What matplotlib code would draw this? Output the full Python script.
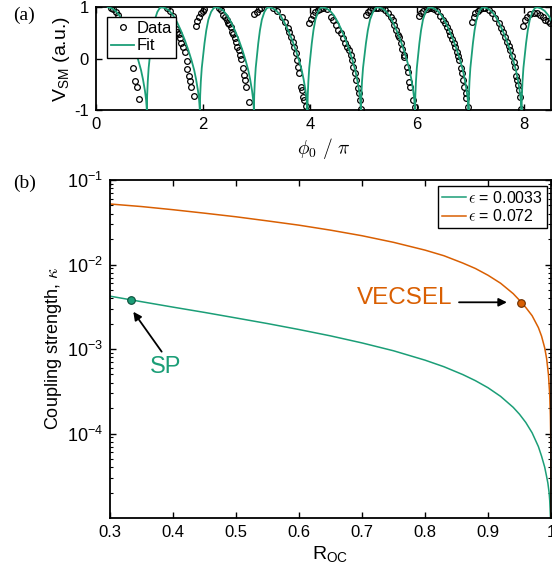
import matplotlib
matplotlib.use('Agg')
import matplotlib.pyplot as plt
from matplotlib.ticker import LogLocator, NullFormatter, FixedLocator, FixedFormatter

plt.rcParams['font.family'] = ['Liberation Sans', 'DejaVu Sans']
plt.rcParams['mathtext.fontset'] = 'custom'
plt.rcParams['mathtext.rm'] = 'Liberation Sans'
plt.rcParams['mathtext.it'] = 'Liberation Sans:italic'
plt.rcParams['mathtext.bf'] = 'Liberation Sans:bold'
plt.rcParams['axes.unicode_minus'] = False

GREEN = '#1b9e77'
ORANGE = '#d95f02'

# ---------------- panel (a): self-mixing signal ----------------
data_phi = [
    0.28, 0.324, 0.368, 0.411, 0.50, 0.58, 0.64, 0.685, 0.729, 0.766, 0.810,
    1.333, 1.383, 1.43, 1.495, 1.520, 1.545, 1.570, 1.583, 1.632, 1.664, 1.695, 1.707, 1.738, 1.757, 1.776, 1.826,
    1.869, 1.894, 1.931, 1.963, 1.994, 2.025,
    2.29, 2.33, 2.380, 2.411, 2.442, 2.474, 2.492, 2.517, 2.542, 2.567, 2.592, 2.617, 2.642, 2.667, 2.692, 2.710,
    2.741, 2.766, 2.785, 2.804, 2.855,
    2.960, 3.003, 3.047, 3.084,
    3.315, 3.377, 3.470, 3.533, 3.583, 3.614, 3.639, 3.676, 3.707, 3.738, 3.763, 3.782, 3.794, 3.826, 3.844,
    3.875, 3.894, 3.925,
    3.981, 4.019, 4.050, 4.093, 4.143, 4.187, 4.249, 4.312,
    4.386, 4.436, 4.480, 4.530, 4.579, 4.611, 4.654, 4.685, 4.729, 4.766, 4.791, 4.810, 4.841, 4.860, 4.891,
    4.916, 4.935, 4.947,
    5.040, 5.078, 5.121, 5.184, 5.227, 5.277, 5.340,
    5.402, 5.464, 5.508, 5.545, 5.570, 5.601, 5.639, 5.664, 5.701, 5.722, 5.745, 5.763, 5.807, 5.826, 5.850,
    5.869, 5.913, 5.950,
    6.037, 6.075, 6.118, 6.181, 6.212, 6.262, 6.305,
    6.368, 6.430, 6.474, 6.524, 6.555, 6.586, 6.617, 6.648, 6.679, 6.710, 6.735, 6.760, 6.785, 6.810, 6.835,
    6.854, 6.879, 6.910, 6.916, 6.947,
    7.022, 7.053, 7.084, 7.134, 7.178, 7.221, 7.271, 7.333,
    7.396, 7.458, 7.520, 7.570, 7.601, 7.645, 7.676, 7.707, 7.738, 7.769, 7.801, 7.819, 7.844, 7.863, 7.875,
    7.907, 7.925, 7.944,
    7.975, 8.006, 8.050, 8.112, 8.174, 8.237, 8.299, 8.349, 8.393, 8.442, 8.486,
]
data_v = [
    0.99, 0.967, 0.902, 0.844, 0.62, 0.35, 0.08, -0.188, -0.435, -0.558, -0.792,
    0.99, 0.934, 0.84, 0.571, 0.519, 0.48, 0.396, 0.298, 0.220, 0.136, -0.046, -0.208, -0.338, -0.429, -0.545, -0.727,
    0.636, 0.740, 0.818, 0.883, 0.934, 0.96,
    0.98, 0.947, 0.850, 0.805, 0.753, 0.688, 0.675, 0.623, 0.526, 0.474, 0.396, 0.318, 0.233, 0.168, 0.071, -0.013,
    -0.188, -0.318, -0.416, -0.545, -0.838,
    0.863, 0.915, 0.96, 0.98,
    0.99, 0.934, 0.818, 0.720, 0.590, 0.526, 0.428, 0.331, 0.233, 0.104, -0.026, -0.156, -0.286, -0.558, -0.610,
    -0.752, -0.805, -0.92,
    0.70, 0.766, 0.850, 0.915, 0.947, 0.96, 0.98, 0.97,
    0.818, 0.753, 0.655, 0.558, 0.493, 0.396, 0.298, 0.233, 0.168, 0.071, -0.026, -0.156, -0.286, -0.416, -0.578,
    -0.675, -0.805, -0.987,
    0.85, 0.915, 0.947, 0.98, 0.99, 0.99, 0.98,
    0.947, 0.883, 0.818, 0.753, 0.655, 0.558, 0.461, 0.415, 0.298, 0.19, 0.071, 0.026, -0.156, -0.253, -0.448,
    -0.558, -0.805, -0.935,
    0.831, 0.895, 0.934, 0.96, 0.98, 0.98, 0.96,
    0.934, 0.831, 0.753, 0.688, 0.623, 0.545, 0.461, 0.376, 0.298, 0.220, 0.136, 0.052, -0.026, -0.188, -0.286,
    -0.416, -0.558, -0.675, -0.773, -0.935,
    0.720, 0.818, 0.883, 0.934, 0.96, 0.98, 0.98, 0.95,
    0.883, 0.785, 0.688, 0.590, 0.526, 0.415, 0.331, 0.246, 0.168, 0.052, -0.059, -0.156, -0.338, -0.416, -0.519,
    -0.610, -0.740, -0.987,
    0.636, 0.753, 0.805, 0.870, 0.895, 0.883, 0.850, 0.805, 0.753, 0.740, 0.701,
]

# fit: fringe positions (peaks and bottoms, in phi0/pi)
fit_peaks = [0.22, 1.23, 2.24, 3.23, 4.23, 5.27, 6.24, 7.24, 8.24]
fit_bottoms = [0.95, 1.94, 2.95, 3.95, 4.95, 5.96, 6.96, 7.95, 8.95]
# shape of one fringe (fraction of branch length, value)
fit_rise_frac = [0.0, 0.02, 0.06, 0.12, 0.20, 0.29, 0.40, 0.53, 0.70, 0.86, 1.0]
fit_rise_v = [-1.0, -0.72, -0.45, -0.18, 0.05, 0.30, 0.55, 0.76, 0.91, 0.985, 1.0]
fit_fall_frac = [0.0, 0.1, 0.2, 0.3, 0.4, 0.5, 0.6, 0.7, 0.78, 0.85, 0.9, 0.95, 0.98, 1.0]
fit_fall_v = [1.0, 0.98, 0.93, 0.84, 0.71, 0.55, 0.37, 0.16, -0.03, -0.22, -0.40, -0.62, -0.80, -1.0]

fit_x, fit_y = [], []
for i, p in enumerate(fit_peaks):
    if i > 0:
        b0 = fit_bottoms[i - 1]
        for f, v in zip(fit_rise_frac, fit_rise_v):
            fit_x.append(b0 + f * (p - b0)); fit_y.append(v)
    b1 = fit_bottoms[i]
    for f, v in zip(fit_fall_frac, fit_fall_v):
        fit_x.append(p + f * (b1 - p)); fit_y.append(v)

# ---------------- panel (b): coupling strength ----------------
R_sp = [0.30, 0.35, 0.40, 0.45, 0.50, 0.55, 0.60, 0.65, 0.70, 0.75, 0.80, 0.83, 0.86, 0.88, 0.90,
        0.92, 0.94, 0.95, 0.96, 0.97, 0.98, 0.985, 0.99, 0.993, 0.995, 0.997, 0.998, 0.9992, 0.9997]
kappa_sp = [0.00422, 0.00363, 0.00313, 0.00271, 0.00233, 0.00200, 0.00170, 0.00143, 0.00118, 0.000953,
            0.000738, 0.000617, 0.000498, 0.000422, 0.000348, 0.000275, 0.000204, 0.000169, 0.000135,
            0.000102, 0.0000700, 0.0000540, 0.0000400, 0.0000310, 0.0000260, 0.0000200, 0.0000160,
            0.0000100, 0.0000040]
R_vec = [0.30, 0.35, 0.40, 0.45, 0.50, 0.55, 0.60, 0.65, 0.70, 0.75, 0.80, 0.83, 0.86, 0.88, 0.90,
         0.92, 0.94, 0.95, 0.96, 0.97, 0.98, 0.985, 0.99, 0.993, 0.996, 0.998, 0.999, 0.9995, 0.9998,
         0.9999, 0.99995, 0.99998]
kappa_vec = [0.0520, 0.0485, 0.0445, 0.0405, 0.0367, 0.0328, 0.0292, 0.0255, 0.0219, 0.0183, 0.0148,
             0.0127, 0.0104, 0.00897, 0.00746, 0.00600, 0.00452, 0.00377, 0.00310, 0.00248, 0.00179,
             0.00142, 0.00103, 0.000775, 0.000494, 0.000285, 0.000163, 0.000094, 0.000045, 0.000026,
             0.000015, 0.000007]
labels_b = [r'$\epsilon$ = 0.0033', r'$\epsilon$ = 0.072']
sp_point = (0.333, 0.00385)
vecsel_point = (0.953, 0.00355)

x_ticks_b = [0.3, 0.4, 0.5, 0.6, 0.7, 0.8, 0.9, 1.0]
x_ticklabels_b = ['0.3', '0.4', '0.5', '0.6', '0.7', '0.8', '0.9', '1']
y_ticks_b = [1e-4, 1e-3, 1e-2, 1e-1]
y_ticklabels_b = [r'$10^{-4}$', r'$10^{-3}$', r'$10^{-2}$', r'$10^{-1}$']

# ---------------- figure ----------------
W, H = 552, 580
fig = plt.figure(figsize=(W / 100, H / 100), dpi=100)
axa = fig.add_axes([96 / W, 1 - 110 / H, (551 - 96) / W, (110 - 7.3) / H])
axb = fig.add_axes([110 / W, 1 - 518 / H, (551 - 110) / W, (518 - 180) / H])

for ax in (axa, axb):
    for s in ax.spines.values():
        s.set_linewidth(1.3)
        s.set_color('k')
    ax.tick_params(which='both', direction='in', top=True, right=True, colors='k')
    ax.tick_params(which='major', length=4, width=1.0, labelsize=12, pad=5)

# panel (a)
axa.plot(data_phi, data_v, 'o', mfc='none', mec='k', ms=4.1, mew=0.9, zorder=2, label='Data')
axa.plot(fit_x, fit_y, '-', color=GREEN, lw=1.3, zorder=3, label='Fit')
axa.set_xlim(0, 8.5)
axa.set_ylim(-1, 1)
axa.set_xticks([0, 2, 4, 6, 8])
axa.set_yticks([-1, 0, 1])
axa.set_xlabel(r'$\phi_0\ /\ \pi$', fontsize=14, math_fontfamily='cm', labelpad=3)
axa.set_ylabel(r'V$_{\rm SM}$ (a.u.)', fontsize=14, labelpad=2)
la = axa.legend(loc='upper left', bbox_to_anchor=(0.0235, 0.908), borderaxespad=0, fontsize=12,
                handlelength=1.4, handletextpad=0.15, labelspacing=0.15, borderpad=0.25,
                fancybox=False, framealpha=1, edgecolor='k')
la.get_frame().set_linewidth(1.0)
la.set_zorder(10)

# panel (b)
axb.plot(R_sp, kappa_sp, '-', color=GREEN, lw=1.1, label=labels_b[0])
axb.plot(R_vec, kappa_vec, '-', color=ORANGE, lw=1.1, label=labels_b[1])
axb.plot(*sp_point, 'o', ms=5.5, mfc=GREEN, mec='#0c4d3a', mew=0.8, zorder=4)
axb.plot(*vecsel_point, 'o', ms=5.5, mfc=ORANGE, mec='#6b2e00', mew=0.8, zorder=4)
axb.set_yscale('log')
axb.set_xlim(0.3, 1.0)
axb.set_ylim(1e-5, 1e-1)
axb.xaxis.set_major_locator(FixedLocator(x_ticks_b))
axb.xaxis.set_major_formatter(FixedFormatter(x_ticklabels_b))
axb.yaxis.set_major_locator(FixedLocator(y_ticks_b))
axb.yaxis.set_major_formatter(FixedFormatter(y_ticklabels_b))
axb.yaxis.set_minor_locator(LogLocator(base=10, subs=[2, 3, 4, 5, 6, 7, 8, 9], numticks=20))
axb.yaxis.set_minor_formatter(NullFormatter())
axb.tick_params(axis='y', which='minor', length=2.2, width=0.8)
axb.tick_params(axis='y', which='major', labelsize=13)
axb.set_xlabel(r'R$_{\rm OC}$', fontsize=14, labelpad=3)
axb.set_ylabel(r'Coupling strength, $\kappa$', fontsize=13, math_fontfamily='cm', labelpad=2)

lb = axb.legend(loc='upper right', bbox_to_anchor=(0.990, 0.983), borderaxespad=0, fontsize=11.5,
                handlelength=1.5, handletextpad=0.1, labelspacing=0.15, borderpad=0.25,
                fancybox=False, framealpha=1, edgecolor='k')
lb.get_frame().set_linewidth(1.0)
for t in lb.get_texts():
    t.set_math_fontfamily('cm')

axb.annotate('', xy=(0.337, 2.76e-3), xytext=(0.382, 9.3e-4),
             arrowprops=dict(arrowstyle='-|>', color='k', lw=1.3, mutation_scale=12,
                             shrinkA=0, shrinkB=0))
axb.text(0.389, 6.1e-4, 'SP', color=GREEN, fontsize=17, ha='center', va='center')
axb.annotate('', xy=(0.930, 3.57e-3), xytext=(0.854, 3.57e-3),
             arrowprops=dict(arrowstyle='-|>', color='k', lw=1.3, mutation_scale=12,
                             shrinkA=0, shrinkB=0))
axb.text(0.768, 4.0e-3, 'VECSEL', color=ORANGE, fontsize=17.5, ha='center', va='center')

fig.text(24 / W, 1 - 15 / H, '(a)', family='Liberation Serif', fontsize=14, ha='center', va='center')
fig.text(25 / W, 1 - 183 / H, '(b)', family='Liberation Serif', fontsize=14, ha='center', va='center')

fig.savefig('out.png', dpi=100)
